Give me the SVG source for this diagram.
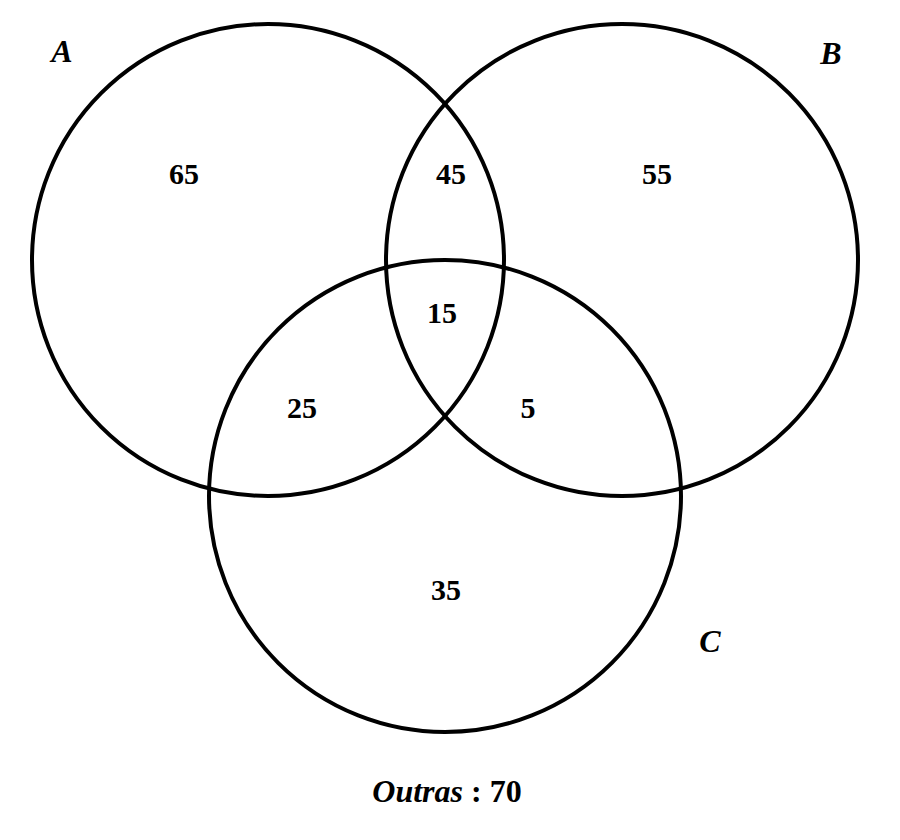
<svg xmlns="http://www.w3.org/2000/svg" width="900" height="840" viewBox="0 0 900 840">
<style>
.c{fill:none;stroke:#000;stroke-width:4}
.n{font-family:"Liberation Serif",serif;font-weight:bold;font-size:30px;text-anchor:middle}
.l{font-family:"Liberation Serif",serif;font-weight:bold;font-style:italic;font-size:32px;text-anchor:middle}
</style>
<rect width="900" height="840" fill="#fff"/>
<g id="A"><circle class="c" cx="268" cy="260" r="236"/><text class="l" x="62" y="62">A</text></g>
<g id="B"><circle class="c" cx="622" cy="260" r="236"/><text class="l" x="831" y="64">B</text></g>
<g id="C"><circle class="c" cx="445" cy="496" r="236"/><text class="l" x="710" y="652">C</text></g>
<g id="values">
<text class="n" x="184" y="184">65</text>
<text class="n" x="451" y="184">45</text>
<text class="n" x="657" y="184">55</text>
<text class="n" x="442" y="323">15</text>
<text class="n" x="302" y="418">25</text>
<text class="n" x="528" y="418">5</text>
<text class="n" x="446" y="600">35</text>
</g>
<g id="outras"><text x="447" y="802" style="font-family:'Liberation Serif',serif;font-weight:bold;font-size:32px;text-anchor:middle"><tspan font-style="italic">Outras</tspan> :  70</text></g>
</svg>
